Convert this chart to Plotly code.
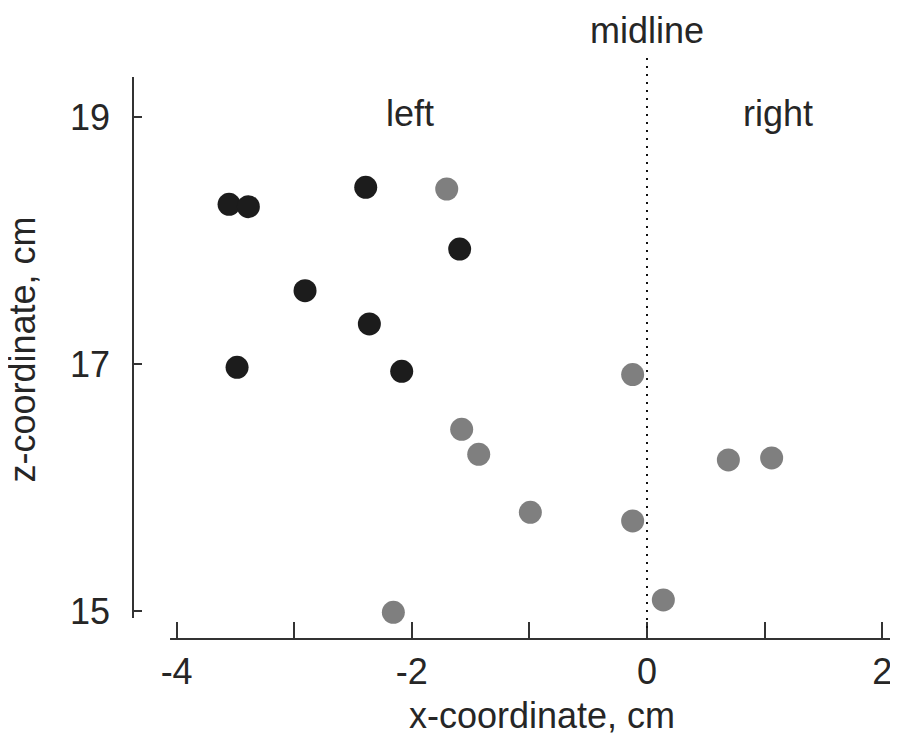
import plotly.graph_objects as go

# Data
black_x = [-3.554, -3.390, -2.392, -1.593, -2.908, -2.361, -3.486, -2.086]
black_z = [18.293, 18.274, 18.431, 17.931, 17.594, 17.324, 16.973, 16.941]

gray_x = [-1.703, -0.122, -1.576, -1.431, 0.692, 1.060, -0.992, -0.122, 0.139, -2.157]
gray_z = [18.417, 16.914, 16.471, 16.269, 16.223, 16.239, 15.799, 15.729, 15.089, 14.989]

x_tickvals = [-4, -3, -2, -1, 0, 1, 2]
x_ticktext = ["-4", "", "-2", "", "0", "", "2"]
y_tickvals = [15, 17, 19]
y_ticktext = ["15", "17", "19"]

FONT = "Liberation Sans, Arial, sans-serif"
TXT = "#262626"
AX = "#333333"
FS = 36

fig = go.Figure()
fig.add_trace(go.Scatter(x=gray_x, y=gray_z, mode="markers",
                         marker=dict(size=23, color="#7f7f7f", line=dict(width=0)),
                         showlegend=False, cliponaxis=False))
fig.add_trace(go.Scatter(x=black_x, y=black_z, mode="markers",
                         marker=dict(size=23, color="#1c1c1c", line=dict(width=0)),
                         showlegend=False, cliponaxis=False))

# midline (dotted)
fig.add_shape(type="line", xref="x", yref="paper", x0=0, x1=0, y0=(639 - 58) / 562, y1=(639 - 632) / 562,
              line=dict(color="#111111", width=2, dash="2px,6px"))
# offset axis lines
fig.add_shape(type="line", xref="x", yref="paper", x0=-4.056, x1=2.109, y0=0, y1=0,
              line=dict(color=AX, width=2))
fig.add_shape(type="line", xref="paper", yref="y", x0=0, x1=0, y0=14.943, y1=19.324,
              line=dict(color=AX, width=2))

ann_font = dict(family=FONT, size=FS, color=TXT)
fig.add_annotation(text="midline", xref="x", yref="paper", x=0, y=(639 - 30) / 562,
                   showarrow=False, font=ann_font, xanchor="center", yanchor="middle")
fig.add_annotation(text="left", xref="x", yref="paper", x=-2.015, y=(639 - 114) / 562,
                   showarrow=False, font=ann_font, xanchor="center", yanchor="middle")
fig.add_annotation(text="right", xref="x", yref="paper", x=1.114, y=(639 - 114) / 562,
                   showarrow=False, font=ann_font, xanchor="center", yanchor="middle")
fig.add_annotation(text="x-coordinate, cm", xref="paper", yref="paper", x=0.537, y=(639 - 715) / 562,
                   showarrow=False, font=ann_font, xanchor="center", yanchor="middle")
fig.add_annotation(text="z-coordinate, cm", xref="paper", yref="paper", x=(23 - 133) / 762, y=0.515,
                   showarrow=False, font=ann_font, xanchor="center", yanchor="middle", textangle=-90)

fig.update_layout(
    width=890, height=726,
    margin=dict(l=125, r=3, t=69, b=95),
    paper_bgcolor="white", plot_bgcolor="white",
    font=dict(family=FONT, size=FS, color=TXT),
    xaxis=dict(range=[-4.371, 2.109], tickvals=x_tickvals, ticktext=x_ticktext,
               ticks="inside", ticklen=17, tickwidth=2, tickcolor=AX,
               showline=False, showgrid=False, zeroline=False,
               tickfont=dict(family=FONT, size=FS, color=TXT), ticklabelstandoff=8),
    yaxis=dict(range=[14.773, 19.324], tickvals=y_tickvals, ticktext=y_ticktext,
               ticks="inside", ticklen=9, tickwidth=2, tickcolor=AX,
               showline=False, showgrid=False, zeroline=False,
               tickfont=dict(family=FONT, size=FS, color=TXT), ticklabelstandoff=22),
)

fig.write_html("out.html")
